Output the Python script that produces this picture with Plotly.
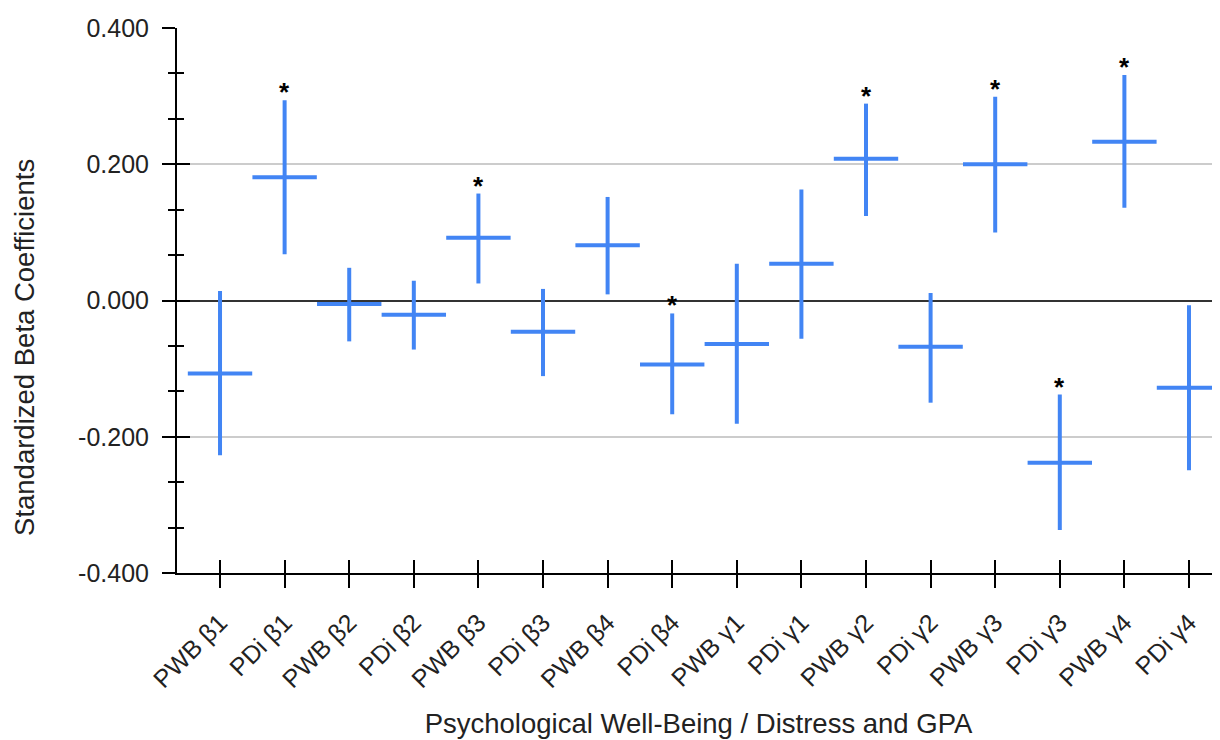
import plotly.graph_objects as go

labels = ["PWB β1", "PDi β1", "PWB β2", "PDi β2", "PWB β3", "PDi β3", "PWB β4", "PDi β4",
          "PWB γ1", "PDi γ1", "PWB γ2", "PDi γ2", "PWB γ3", "PDi γ3", "PWB γ4", "PDi γ4"]
beta = [-0.107, 0.181, -0.005, -0.021, 0.092, -0.046, 0.081, -0.094,
        -0.064, 0.054, 0.208, -0.068, 0.200, -0.238, 0.233, -0.128]
lower = [-0.227, 0.068, -0.060, -0.072, 0.025, -0.111, 0.009, -0.167,
         -0.181, -0.056, 0.124, -0.150, 0.100, -0.337, 0.136, -0.249]
upper = [0.014, 0.294, 0.048, 0.029, 0.157, 0.017, 0.152, -0.019,
         0.054, 0.163, 0.289, 0.011, 0.299, -0.138, 0.331, -0.007]
significant = [0, 1, 0, 0, 1, 0, 0, 1, 0, 0, 1, 0, 1, 1, 1, 0]

y_ticks = [-0.4, -0.2, 0.0, 0.2, 0.4]

BLUE = "#4285f4"
FONT = "Arial, Liberation Sans, sans-serif"
TXT = "#222222"
TICK_SIZE = 25
TITLE_SIZE = 27.5

fig = go.Figure()
fig.add_trace(go.Scatter(
    x=labels, y=beta, mode="markers",
    marker=dict(symbol="line-ew", size=46, color=BLUE, line=dict(width=4, color=BLUE)),
    error_y=dict(type="data", symmetric=False,
                 array=[u - b for u, b in zip(upper, beta)],
                 arrayminus=[b - l for b, l in zip(beta, lower)],
                 color=BLUE, thickness=4, width=0),
    showlegend=False, hoverinfo="skip",
))
# empty helper trace so the overlay axes (inner tick halves) are drawn
fig.add_trace(go.Scatter(x=[], y=[], xaxis="x2", yaxis="y2", showlegend=False, hoverinfo="skip"))

for lab, u, s in zip(labels, upper, significant):
    if s:
        fig.add_annotation(x=lab, y=u, text="<b>*</b>", showarrow=False, yanchor="bottom",
                           yshift=-9, font=dict(family=FONT, size=26, color="#000000"))

# y-axis title (sits a little below the plot centre, as in the original)
fig.add_annotation(text="Standardized Beta Coefficients", xref="paper", yref="paper",
                   x=-0.1457, y=0.413, xanchor="center", yanchor="middle", textangle=-90,
                   showarrow=False, font=dict(family=FONT, size=TITLE_SIZE, color=TXT))

xrange = [-0.666, 15.48]
yrange = [-0.4, 0.4]

fig.update_layout(
    width=1212, height=732,
    margin=dict(l=169, r=0, t=20, b=167),
    paper_bgcolor="white", plot_bgcolor="white",
    font=dict(family=FONT, size=TICK_SIZE, color=TXT),
    xaxis=dict(
        range=xrange, tickmode="array", tickvals=labels, ticktext=labels,
        tickangle=-45, ticks="outside", ticklen=13, tickwidth=2, tickcolor="#000",
        showline=True, linecolor="#000", linewidth=2, showgrid=False, zeroline=False,
        tickfont=dict(size=TICK_SIZE, color=TXT), ticklabelstandoff=10,
        title=dict(text="Psychological Well-Being / Distress and GPA",
                   font=dict(size=TITLE_SIZE, color=TXT), standoff=22),
        fixedrange=True,
    ),
    yaxis=dict(
        range=yrange, tickmode="array", tickvals=y_ticks,
        ticktext=[f"{v:.3f}" for v in y_ticks],
        ticks="outside", ticklen=13, tickwidth=2, tickcolor="#000",
        minor=dict(dtick=0.2 / 3, tick0=0, ticks="outside", ticklen=7, tickwidth=2,
                   tickcolor="#000", showgrid=False),
        showline=True, linecolor="#000", linewidth=2,
        showgrid=True, gridcolor="#cccccc", gridwidth=1.5,
        zeroline=True, zerolinecolor="#333333", zerolinewidth=2,
        tickfont=dict(size=TICK_SIZE, color=TXT), ticklabelstandoff=8,
        fixedrange=True,
    ),
    xaxis2=dict(
        overlaying="x", anchor="y2", range=xrange, tickmode="array",
        tickvals=list(range(len(labels))), showticklabels=False,
        ticks="inside", ticklen=13, tickwidth=2, tickcolor="#000",
        showline=False, showgrid=False, zeroline=False, fixedrange=True,
    ),
    yaxis2=dict(
        overlaying="y", anchor="x2", side="left", range=yrange, tickmode="array",
        tickvals=y_ticks, showticklabels=False,
        ticks="inside", ticklen=13, tickwidth=2, tickcolor="#000",
        minor=dict(dtick=0.2 / 3, tick0=0, ticks="inside", ticklen=7, tickwidth=2,
                   tickcolor="#000", showgrid=False),
        showline=False, showgrid=False, zeroline=False, fixedrange=True,
    ),
)

fig.write_html("out.html")
